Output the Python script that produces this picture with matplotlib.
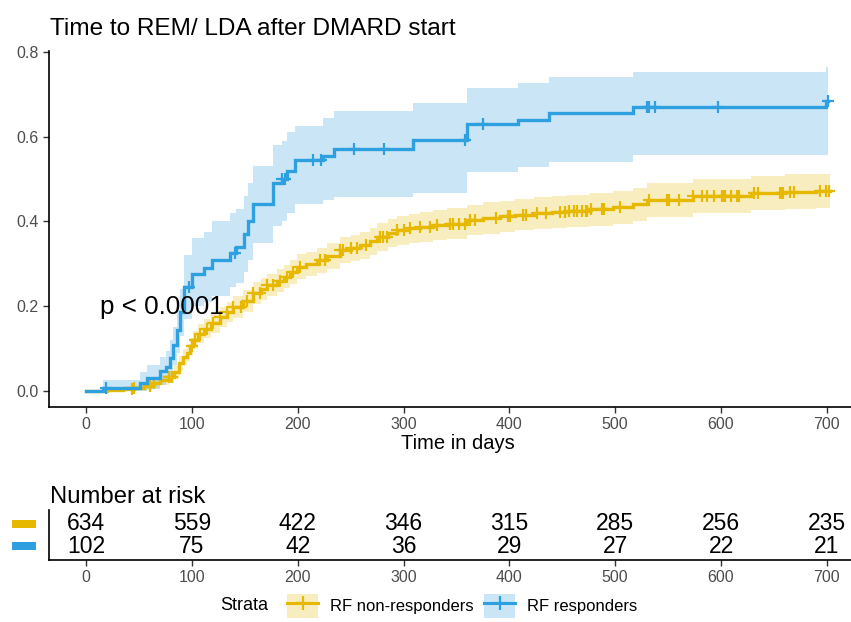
import numpy as np
import matplotlib
matplotlib.use("Agg")
import matplotlib.pyplot as plt
from matplotlib.patches import Rectangle, Patch
from matplotlib.lines import Line2D
from matplotlib.legend_handler import HandlerTuple
import matplotlib.transforms as mtransforms

plt.rcParams['font.family'] = ['Liberation Sans', 'DejaVu Sans']

# ---------------- data ----------------
title = "Time to REM/ LDA after DMARD start"
group_labels = ["RF non-responders", "RF responders"]
colors = ["#E7B800", "#2E9FDF"]

# RF responders (blue) cumulative incidence step function
blue_t = [0, 16, 51, 58, 70, 76, 79, 82, 86, 89, 93, 100, 111, 119, 136, 142, 149, 153,
          158, 177, 185, 190, 197, 224, 234, 309, 360, 408, 437, 517, 699, 701]
blue_v = [0.0, 0.007, 0.019, 0.031, 0.046, 0.057, 0.077, 0.108, 0.144, 0.187, 0.245, 0.277,
          0.290, 0.308, 0.325, 0.340, 0.370, 0.400, 0.440, 0.490, 0.500, 0.520, 0.545, 0.555,
          0.570, 0.592, 0.629, 0.639, 0.655, 0.670, 0.684, 0.684]
blue_up = [0.0, 0.025, 0.045, 0.060, 0.080, 0.095, 0.120, 0.150, 0.190, 0.240, 0.320, 0.360,
           0.375, 0.400, 0.420, 0.430, 0.460, 0.490, 0.530, 0.580, 0.590, 0.610, 0.625, 0.645,
           0.660, 0.679, 0.714, 0.727, 0.740, 0.753, 0.765, 0.765]
blue_lo = [0.0, 0.0, 0.0, 0.005, 0.015, 0.020, 0.035, 0.060, 0.090, 0.130, 0.170, 0.200,
           0.210, 0.225, 0.245, 0.255, 0.280, 0.310, 0.350, 0.390, 0.400, 0.420, 0.440, 0.450,
           0.458, 0.466, 0.517, 0.529, 0.540, 0.556, 0.556, 0.556]
blue_cens = [19, 97, 141, 185, 188, 214, 222, 253, 282, 358, 375, 530, 532, 538, 597, 701]

# RF non-responders (yellow)
yel_t = [0, 20, 35, 45, 55, 62, 70, 78, 83, 88, 92, 95, 98, 101, 106, 111, 118, 127, 133,
         139, 148, 158, 165, 171, 180, 187, 193, 199, 208, 218, 228, 240, 250, 259, 268,
         275, 285, 294, 305, 316, 328, 341, 360, 375, 391, 405, 423, 440, 454, 475, 498,
         517, 530, 574, 628, 660, 690, 703]
yel_v = [0.0, 0.002, 0.005, 0.008, 0.012, 0.018, 0.025, 0.032, 0.045, 0.065, 0.080, 0.090,
         0.105, 0.120, 0.135, 0.147, 0.160, 0.175, 0.187, 0.198, 0.212, 0.230, 0.240, 0.250,
         0.260, 0.270, 0.280, 0.293, 0.300, 0.308, 0.318, 0.332, 0.338, 0.344, 0.353, 0.363,
         0.372, 0.379, 0.384, 0.387, 0.391, 0.395, 0.403, 0.408, 0.412, 0.416, 0.420, 0.422,
         0.425, 0.429, 0.433, 0.441, 0.450, 0.460, 0.467, 0.470, 0.472, 0.472]
yel_up = [0.0, 0.006, 0.011, 0.015, 0.021, 0.029, 0.037, 0.046, 0.061, 0.083, 0.099, 0.110,
          0.126, 0.142, 0.157, 0.170, 0.183, 0.199, 0.211, 0.223, 0.237, 0.256, 0.266, 0.277,
          0.287, 0.298, 0.308, 0.322, 0.329, 0.338, 0.348, 0.363, 0.369, 0.376, 0.385, 0.396,
          0.405, 0.413, 0.418, 0.422, 0.426, 0.431, 0.439, 0.445, 0.449, 0.453, 0.458, 0.460,
          0.463, 0.468, 0.472, 0.480, 0.490, 0.500, 0.508, 0.511, 0.513, 0.513]
yel_lo = [0.0, 0.0, 0.0, 0.001, 0.003, 0.007, 0.013, 0.018, 0.029, 0.047, 0.061, 0.070,
          0.084, 0.098, 0.113, 0.124, 0.137, 0.151, 0.163, 0.173, 0.187, 0.204, 0.214, 0.223,
          0.233, 0.242, 0.252, 0.264, 0.271, 0.278, 0.288, 0.301, 0.307, 0.312, 0.321, 0.330,
          0.339, 0.345, 0.350, 0.352, 0.356, 0.359, 0.367, 0.371, 0.375, 0.379, 0.382, 0.384,
          0.387, 0.390, 0.394, 0.402, 0.410, 0.420, 0.426, 0.429, 0.431, 0.431]
yel_cens = [43, 45, 60, 64, 78, 81, 100, 103, 108, 114, 120, 127, 133, 139, 146, 152, 158,
            164, 171, 177, 183, 190, 196, 202, 221, 226, 240, 243, 250, 256, 265, 278, 281,
            284, 294, 300, 306, 316, 325, 332, 344, 347, 352, 358, 363, 368, 387, 399, 401,
            413, 416, 426, 435, 448, 453, 456, 461, 464, 469, 472, 473, 477, 488, 489, 505,
            532, 549, 551, 560, 574, 582, 587, 593, 601, 603, 604, 609, 615, 617, 631, 635,
            656, 658, 659, 665, 669, 694, 699, 702]

pval_text = "p < 0.0001"
xticks = [0, 100, 200, 300, 400, 500, 600, 700]
yticks = [0.0, 0.2, 0.4, 0.6, 0.8]
risk_nonresp = [634, 559, 422, 346, 315, 285, 256, 235]
risk_resp = [102, 75, 42, 36, 29, 27, 22, 21]

# ---------------- figure ----------------
W, H = 851, 622
fig = plt.figure(figsize=(W / 100, H / 100), dpi=100)

def fx(px):
    return px / W

def fy(py):
    return 1 - py / H

xl = (-35, 737)
ax_left = 49
ax_right = 866
ax = fig.add_axes([fx(ax_left), fy(407), fx(ax_right - ax_left), (407 - 50.7) / H])
ax.set_xlim(*xl)
ax.set_ylim(-0.038, 0.803)

def step_lookup(t, v, q):
    t = np.asarray(t); v = np.asarray(v)
    idx = np.searchsorted(t, q, side='right') - 1
    idx = np.clip(idx, 0, len(v) - 1)
    return v[idx]

series = [
    (yel_t, yel_v, yel_lo, yel_up, yel_cens, colors[0]),
    (blue_t, blue_v, blue_lo, blue_up, blue_cens, colors[1]),
]
for t, v, lo, up, cens, c in series:
    ax.fill_between(t, lo, up, step='post', color=c, alpha=0.25, linewidth=0)
for t, v, lo, up, cens, c in series:
    ax.step(t, v, where='post', color=c, lw=2.4, solid_joinstyle='miter')
    cy = step_lookup(t, v, np.asarray(cens))
    ax.plot(cens, cy, linestyle='none', marker='+', color=c, markersize=8, mew=1.6)

ax.text(13, 0.198, pval_text, fontsize=18.7, ha='left', va='center', color='black')

for s in ['top', 'right']:
    ax.spines[s].set_visible(False)
for s in ['left', 'bottom']:
    ax.spines[s].set_linewidth(1.2)
    ax.spines[s].set_color('black')
ax.set_xticks(xticks)
ax.set_yticks(yticks)
ax.set_yticklabels([f"{v:.1f}" for v in yticks])
ax.tick_params(axis='both', labelsize=11.5, labelcolor='#4D4D4D', color='#333333',
               length=4, width=1.0)
ax.set_xlabel("Time in days", fontsize=14.5, labelpad=1)

fig.text(fx(50), fy(35), title, fontsize=17.6, ha='left', va='baseline')

# ---------------- risk table ----------------
rax = fig.add_axes([fx(ax_left), fy(560), fx(ax_right - ax_left), 50 / H])
rax.set_xlim(*xl)
rax.set_ylim(-0.636, 1.636)
for s in ['top', 'right']:
    rax.spines[s].set_visible(False)
for s in ['left', 'bottom']:
    rax.spines[s].set_linewidth(1.2)
    rax.spines[s].set_color('black')
rax.set_yticks([])
rax.set_xticks(xticks)
rax.tick_params(axis='x', labelsize=11.5, labelcolor='#4D4D4D', color='#333333',
                length=4, width=1.0)
for x, n in zip(xticks, risk_nonresp):
    rax.text(x, 1, str(n), ha='center', va='center', fontsize=16.5)
for x, n in zip(xticks, risk_resp):
    rax.text(x, 0, str(n), ha='center', va='center', fontsize=16.5)

trans = mtransforms.blended_transform_factory(fig.transFigure, rax.transData)
for row, c in zip([1, 0], colors):
    rax.add_patch(Rectangle((fx(12), row - 0.16), fx(24), 0.32, transform=trans,
                            facecolor=c, edgecolor='none', clip_on=False))

fig.text(fx(50), fy(503), "Number at risk", fontsize=17.2, ha='left', va='baseline')

# ---------------- legend ----------------
handles = []
for c in colors:
    p = Patch(facecolor=c, alpha=0.25, edgecolor='none')
    l = Line2D([], [], color=c, lw=2.2, marker='+', markersize=10, mew=1.6)
    handles.append((p, l))
leg = fig.legend(handles, group_labels, ncol=2, loc='center',
                 bbox_to_anchor=(fx(462), fy(606)), frameon=False, fontsize=12,
                 handlelength=1.9, handleheight=1.9, handletextpad=0.7,
                 columnspacing=0.6, borderpad=0,
                 handler_map={tuple: HandlerTuple(ndivide=1)})
fig.text(fx(268), fy(606), "Strata", fontsize=13, ha='right', va='center')

fig.savefig("out.png", dpi=100)
